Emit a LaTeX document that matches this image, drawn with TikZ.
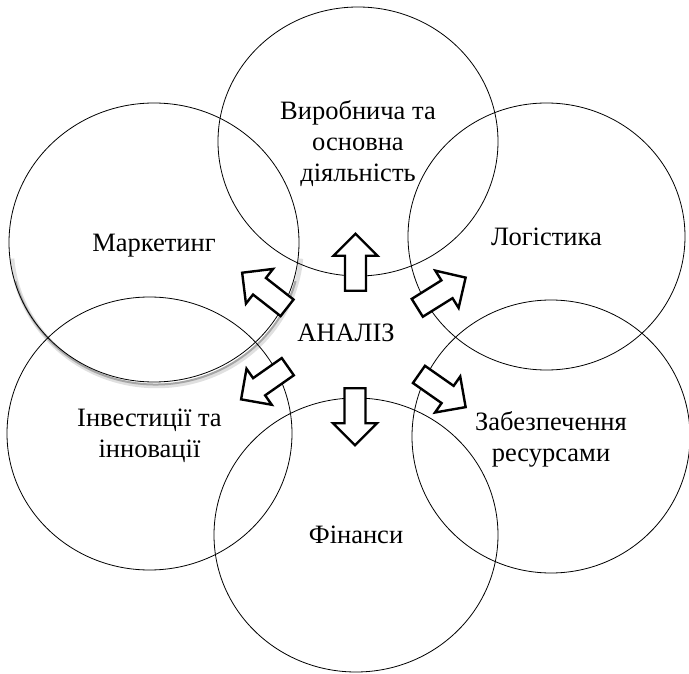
\documentclass[tikz,border=0pt]{standalone}
\usepackage{fontspec}
\setmainfont{Liberation Serif}
\usetikzlibrary{shapes.geometric,shapes.arrows}
\begin{document}
\begin{tikzpicture}[x=1pt,y=-1pt,
	area/.style={draw,ellipse,line width=0.8pt,align=center,inner sep=0pt,text depth=0pt},
	blockarr/.style={draw,single arrow,line width=2.4pt,fill=white,minimum height=57pt,
		inner xsep=0pt,inner ysep=9.3pt,single arrow head extend=11.5pt,single arrow head indent=0pt}]
\fontsize{26.5}{31}\selectfont
\useasboundingbox (0,0) rectangle (689,674);
\draw[black!12,line width=4.5pt] (156.5,246.5) ++(5:145 and 139.5) arc[start angle=5,end angle=175,x radius=145,y radius=139.5];
\draw[black!35,line width=2pt] (155.5,245) ++(15:145 and 139.5) arc[start angle=15,end angle=165,x radius=145,y radius=139.5];
\node[area,minimum width=280pt,minimum height=269pt] (vyr) at (358,141.5) {Виробнича та\\основна\\діяльність};
\node[area,minimum width=290pt,minimum height=279pt] (mark) at (154,242.5) {Маркетинг};
\node[area,minimum width=277pt,minimum height=267pt] (log) at (546.5,236.5) {Логістика};
\node[area,minimum width=285pt,minimum height=273pt] (inv) at (149.5,433.5) {Інвестиції та\\інновації};
\node[area,minimum width=278pt,minimum height=273pt] (zab) at (551,436.5) {Забезпечення\\ресурсами};
\node[area,minimum width=284pt,minimum height=274pt] (fin) at (356,535) {Фінанси};
\node (an) at (346,333) {АНАЛІЗ};
\foreach \n/\px/\py/\a in {up/355.5/267.5/90,dn/355/411.5/270,ul/268.75/293.5/142,
	ur/437/295.5/32,ll/268.75/380/215,lr/438/387.75/-35}{
	\node[blockarr,rotate=\a] (arr\n) at (\px,\py) {};}
\end{tikzpicture}
\end{document}
